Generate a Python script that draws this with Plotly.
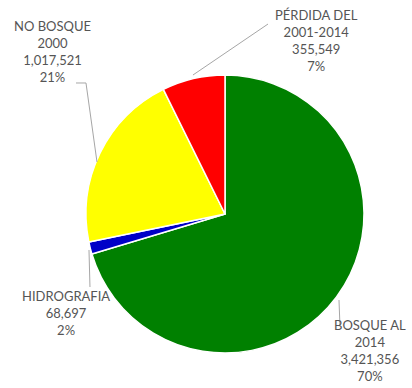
import plotly.graph_objects as go

# Data
categories = ["BOSQUE AL<br>2014", "HIDROGRAFIA", "NO BOSQUE<br>2000", "PÉRDIDA DEL<br>2001-2014"]
values = [3421356, 68697, 1017521, 355549]
value_labels = ["3,421,356", "68,697", "1,017,521", "355,549"]
pct_labels = ["70%", "2%", "21%", "7%"]
colors = ["#008000", "#0000C8", "#FFFF00", "#FF0000"]

W, H = 412, 388
cx, cy, r = 225, 214, 139

fig = go.Figure(go.Pie(
    labels=[c.replace("<br>", " ") for c in categories],
    values=values,
    sort=False,
    direction="clockwise",
    rotation=0,
    marker=dict(colors=colors, line=dict(color="#FFFFFF", width=1.5)),
    textinfo="none",
    hoverinfo="label+value+percent",
    domain=dict(x=[(cx - r) / W, (cx + r) / W], y=[(H - cy - r) / H, (H - cy + r) / H]),
    showlegend=False,
))

def px(x):
    return x / W

def py(y):
    return 1 - y / H

# label block centers (pixels) and leader lines (pixels)
label_pos = [(370, 350), (66, 313), (52, 52), (316, 41)]
leaders = [
    "M 339 300 L 340 326",
    "M 89 250 L 90 287",
    "M 76 83 L 86 83 L 97 162",
    "M 193 75 L 268 24",
]

annotations = []
for cat, val, pct, (lx, ly) in zip(categories, value_labels, pct_labels, label_pos):
    annotations.append(dict(
        x=px(lx), y=py(ly), xref="paper", yref="paper",
        text=f"{cat}<br>{val}<br>{pct}", showarrow=False,
        font=dict(family="Lato", size=13, color="#555555"),
        align="center", xanchor="center", yanchor="middle",
    ))

shapes = []
for p in leaders:
    pts = p.split()
    out = []
    i = 0
    while i < len(pts):
        cmd = pts[i]
        x = float(pts[i + 1]); y = float(pts[i + 2])
        out.append(f"{cmd} {px(x):.4f} {py(y):.4f}")
        i += 3
    shapes.append(dict(type="path", path=" ".join(out), xref="paper", yref="paper",
                       line=dict(color="#A6A6A6", width=1)))

fig.update_layout(
    width=W, height=H,
    margin=dict(l=0, r=0, t=0, b=0),
    paper_bgcolor="white", plot_bgcolor="white",
    annotations=annotations,
    shapes=shapes,
)

fig.write_html("out.html", config={"displayModeBar": False},
               post_script="document.body.style.margin='0';")
